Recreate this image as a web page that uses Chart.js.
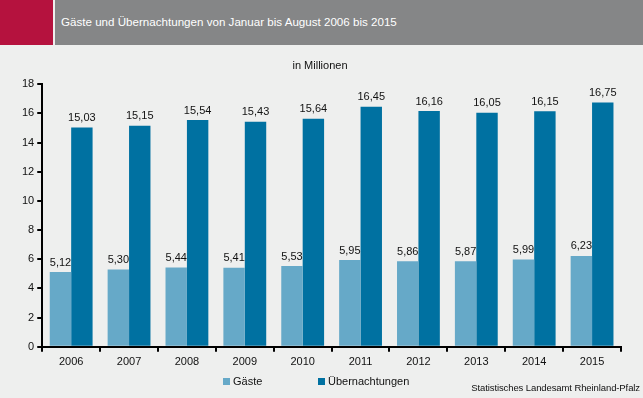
<!DOCTYPE html>
<html>
<head>
<meta charset="utf-8">
<script src="https://cdn.jsdelivr.net/npm/chart.js@4/dist/chart.umd.min.js"></script>
<style>
  html, body { margin: 0; padding: 0; }
  body { width: 643px; height: 398px; background: #eeefee; position: relative; overflow: hidden; font-family: "Liberation Sans", Arial, sans-serif; }
  #head-red { position: absolute; left: 0; top: 0; width: 53px; height: 45px; background: #b5123e; }
  #head-gray { position: absolute; left: 55px; top: 0; width: 588px; height: 45px; background: #858687; }
  #head-title { position: absolute; left: 61px; top: 15px; color: #fff; font-size: 11.6px; }
  #wrap { position: absolute; left: 0; top: 45px; width: 643px; height: 353px; }
  #legend { position: absolute; top: 375px; left: 0; width: 643px; font-size: 11px; color: #111; }
  .item { position: absolute; display: flex; align-items: center; }
  .box { width: 7px; height: 7px; margin-right: 3px; }
  #source { position: absolute; right: 3px; top: 382px; font-size: 9.5px; color: #111; letter-spacing: -0.1px; }
</style>
</head>
<body>
<div id="head-red"></div>
<div id="head-gray"></div>
<div id="head-title">Gäste und Übernachtungen von Januar bis August 2006 bis 2015</div>
<div id="wrap"><canvas id="chart"></canvas></div>
<div id="legend"></div>
<div id="source">Statistisches Landesamt Rheinland-Pfalz</div>
<script>
// Daten
const years = ['2006', '2007', '2008', '2009', '2010', '2011', '2012', '2013', '2014', '2015'];
const gaeste = [5.12, 5.30, 5.44, 5.41, 5.53, 5.95, 5.86, 5.87, 5.99, 6.23];
const uebernachtungen = [15.03, 15.15, 15.54, 15.43, 15.64, 16.45, 16.16, 16.05, 16.15, 16.75];
const yTicks = [0, 2, 4, 6, 8, 10, 12, 14, 16, 18];

const colors = ['#66a9c8', '#0071a1'];
const legendX = [223, 318];
const FONT = '"Liberation Sans", Arial, sans-serif';

// Werte über den Balken
const valueLabels = {
    id: 'valueLabels',
    afterDatasetsDraw(chart) {
        const ctx = chart.ctx;
        ctx.save();
        ctx.font = '11px ' + FONT;
        ctx.fillStyle = '#111';
        ctx.textAlign = 'center';
        ctx.textBaseline = 'bottom';
        chart.data.datasets.forEach((ds, i) => {
            chart.getDatasetMeta(i).data.forEach((bar, j) => {
                ctx.fillText(ds.data[j].toFixed(2).replace('.', ','), bar.x, bar.y - 4);
            });
        });
        ctx.restore();
    }
};

const chart = new Chart(document.getElementById('chart'), {
    type: 'bar',
    data: {
        labels: years,
        datasets: [
            { label: 'Gäste', data: gaeste, backgroundColor: colors[0] },
            { label: 'Übernachtungen', data: uebernachtungen, backgroundColor: colors[1] }
        ]
    },
    options: {
        responsive: true,
        maintainAspectRatio: false,
        animation: false,
        layout: { padding: { top: 8, right: 22, bottom: 25, left: 19 } },
        datasets: { bar: { categoryPercentage: 0.74, barPercentage: 1 } },
        plugins: {
            legend: { display: false },
            tooltip: { enabled: false },
            title: {
                display: true,
                text: 'in Millionen',
                color: '#111',
                font: { family: FONT, size: 11, weight: 'normal' },
                padding: { top: 6, bottom: 12 }
            }
        },
        scales: {
            x: {
                grid: { display: true, drawOnChartArea: false, offset: true, color: '#000', lineWidth: 2, tickLength: 5 },
                border: { color: '#000', width: 2 },
                ticks: { color: '#111', font: { family: FONT, size: 11 }, padding: 4 }
            },
            y: {
                min: 0,
                max: 18,
                afterBuildTicks: (axis) => { axis.ticks = yTicks.map(v => ({ value: v })); },
                grid: { display: true, drawOnChartArea: false, color: '#000', lineWidth: 2, tickLength: 5 },
                border: { color: '#000', width: 2 },
                ticks: { color: '#111', font: { family: FONT, size: 11 }, padding: 3 }
            }
        }
    },
    plugins: [valueLabels]
});

// Legende
document.getElementById('legend').innerHTML = chart.data.datasets.map((ds, i) =>
    `<div class="item" style="left:${legendX[i]}px"><span class="box" style="background:${ds.backgroundColor}"></span>${ds.label}</div>`
).join('');
</script>
</body>
</html>
